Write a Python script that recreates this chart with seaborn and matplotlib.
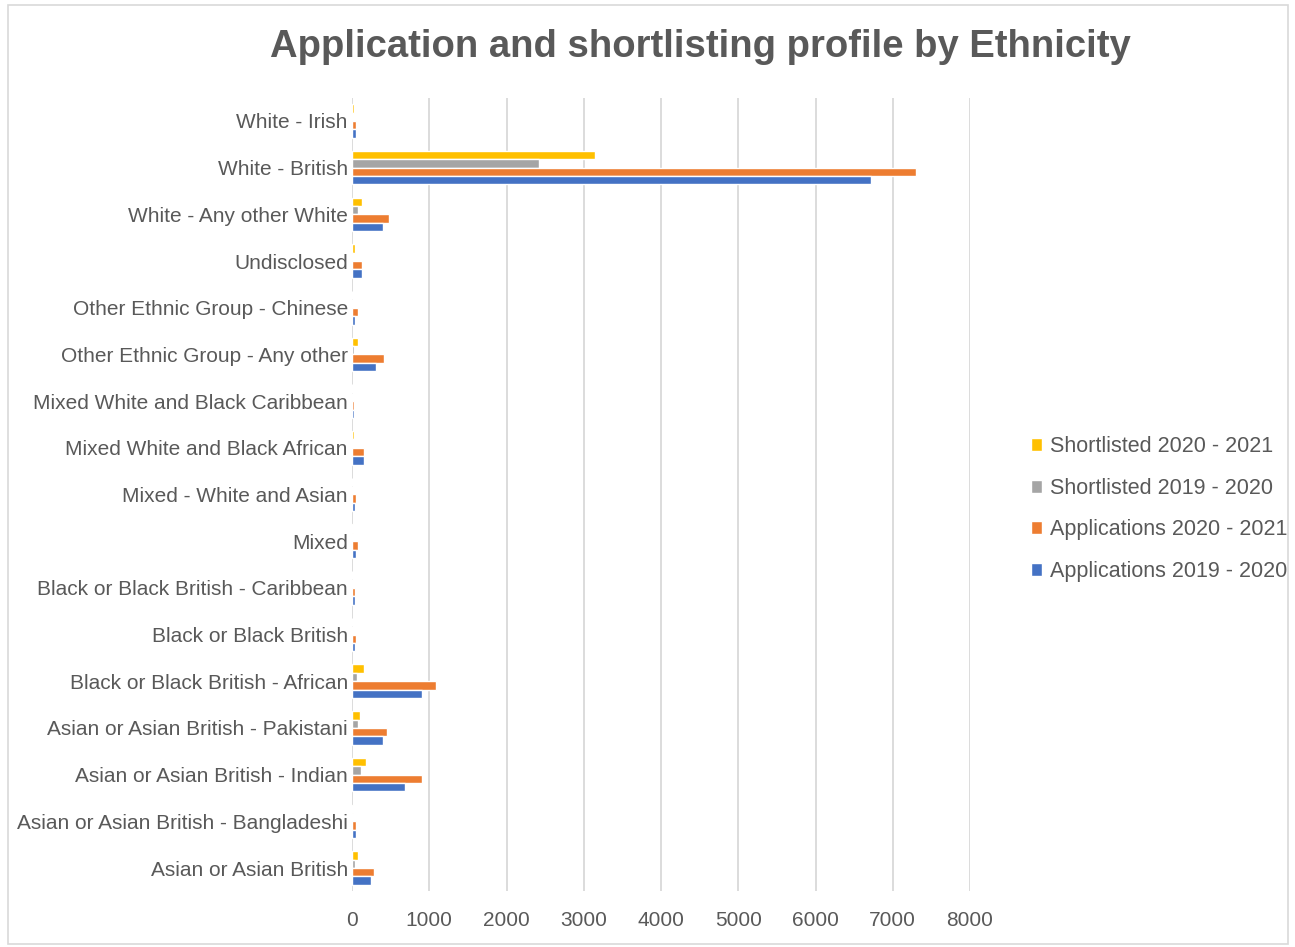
import matplotlib
matplotlib.use("Agg")
import matplotlib.pyplot as plt
import seaborn as sns
import pandas as pd
from matplotlib.patches import Rectangle

categories = [
    "White - Irish",
    "White - British",
    "White - Any other White",
    "Undisclosed",
    "Other Ethnic Group - Chinese",
    "Other Ethnic Group - Any other",
    "Mixed White and Black Caribbean",
    "Mixed White and Black African",
    "Mixed - White and Asian",
    "Mixed",
    "Black or Black British - Caribbean",
    "Black or Black British",
    "Black or Black British - African",
    "Asian or Asian British - Pakistani",
    "Asian or Asian British - Indian",
    "Asian or Asian British - Bangladeshi",
    "Asian or Asian British",
]

shortlisted_2020_2021 = [30, 3150, 125, 35, 5, 80, 5, 20, 5, 10, 5, 5, 150, 100, 180, 10, 75]
shortlisted_2019_2020 = [10, 2420, 75, 10, 5, 30, 5, 15, 5, 5, 5, 5, 60, 80, 120, 5, 35]
applications_2020_2021 = [50, 7300, 480, 125, 75, 410, 30, 150, 50, 75, 35, 50, 1090, 455, 900, 50, 290]
applications_2019_2020 = [50, 6720, 405, 125, 35, 315, 30, 150, 35, 50, 35, 35, 900, 405, 690, 50, 245]

series_names = [
    "Shortlisted 2020 - 2021",
    "Shortlisted 2019 - 2020",
    "Applications 2020 - 2021",
    "Applications 2019 - 2020",
]
series_values = [shortlisted_2020_2021, shortlisted_2019_2020,
                 applications_2020_2021, applications_2019_2020]
series_colors = ["#FFC000", "#A5A5A5", "#ED7D31", "#4472C4"]

x_ticks = [0, 1000, 2000, 3000, 4000, 5000, 6000, 7000, 8000]

rows = []
for name, vals in zip(series_names, series_values):
    for cat, v in zip(categories, vals):
        rows.append({"Ethnicity": cat, "Series": name, "Value": v})
df = pd.DataFrame(rows)

sns.set_style("white")
plt.rcParams["font.family"] = ["Liberation Sans", "DejaVu Sans"]

W, H = 1295, 947
fig = plt.figure(figsize=(W / 100, H / 100), dpi=100)
fig.patch.set_facecolor("white")

left, right, top, bottom = 352, 970, 97.6, 891.4
ax = fig.add_axes([left / W, 1 - bottom / H, (right - left) / W, (bottom - top) / H])

sns.barplot(data=df, y="Ethnicity", x="Value", hue="Series",
            order=categories, hue_order=series_names,
            palette=series_colors, orient="h", width=0.72, gap=0,
            saturation=1, ax=ax, zorder=3, legend=True)

ax.set_xlim(0, 8000)
ax.set_ylim(len(categories) - 0.5, -0.5)
ax.set_xticks(x_ticks)
ax.set_xticklabels([str(t) for t in x_ticks])
ax.grid(axis="x", color="#D9D9D9", linewidth=1.3, zorder=0)
ax.grid(axis="y", visible=False)
ax.set_axisbelow(True)
for s in ax.spines.values():
    s.set_visible(False)
ax.set_xlabel("")
ax.set_ylabel("")
ax.tick_params(axis="both", length=0, labelsize=15, colors="#595959")
ax.tick_params(axis="y", pad=3)
ax.tick_params(axis="x", pad=14)

handles, labels = ax.get_legend_handles_labels()
ax.get_legend().remove()
leg = fig.legend(handles, labels, loc="center left",
                 bbox_to_anchor=(1022 / W, 1 - 509 / H),
                 frameon=False, fontsize=15.5, handlelength=0.55,
                 handleheight=0.55, handletextpad=0.35, labelspacing=0.95,
                 borderaxespad=0)
for t in leg.get_texts():
    t.set_color("#595959")

fig.text(700 / W, 1 - 47 / H, "Application and shortlisting profile by Ethnicity",
         ha="center", va="center", fontsize=27.5, fontweight="bold", color="#595959")

fig.patches.append(Rectangle((8 / W, 1 - 944 / H), 1280 / W, 939 / H,
                             transform=fig.transFigure, fill=False,
                             edgecolor="#D9D9D9", linewidth=1.2))

fig.savefig("out.png", dpi=100)
